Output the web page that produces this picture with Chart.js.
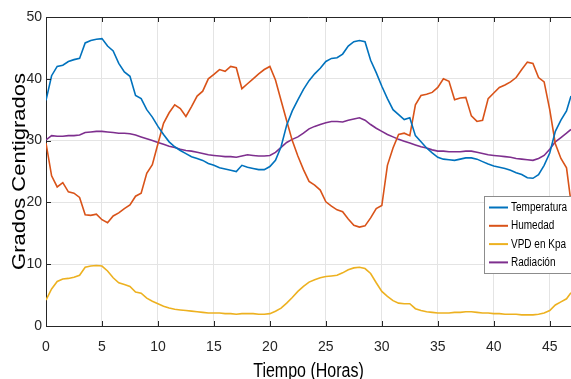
<!DOCTYPE html>
<html>
<head>
<meta charset="utf-8">
<script src="https://cdn.jsdelivr.net/npm/chart.js@4.4.1/dist/chart.umd.min.js"></script>
<style>
  html, body { margin:0; padding:0; background:#fff; }
  #wrap { width:571px; height:379px; }
</style>
</head>
<body>
<div id="wrap"><canvas id="grafica" width="571" height="379"></canvas></div>
<script>
// ==========================
// DATOS
// ==========================
const horas = [0,0.5,1,1.5,2,2.5,3,3.5,4,4.5,5,5.5,6,6.5,7,7.5,8,8.5,9,9.5,
  10,10.5,11,11.5,12,12.5,13,13.5,14,14.5,15,15.5,16,16.5,17,17.5,18,18.5,19,19.5,
  20,20.5,21,21.5,22,22.5,23,23.5,24,24.5,25,25.5,26,26.5,27,27.5,28,28.5,29,29.5,
  30,30.5,31,31.5,32,32.5,33,33.5,34,34.5,35,35.5,36,36.5,37,37.5,38,38.5,39,39.5,
  40,40.5,41,41.5,42,42.5,43,43.5,44,44.5,45,45.5,46,46.5,46.9];

const temperatura = [36.5,40.5,42.0,42.2,42.8,43.1,43.3,45.8,46.2,46.4,46.5,45.3,44.5,42.5,41.1,40.4,37.3,36.8,35.0,33.8,
  32.3,31.0,29.8,29.0,28.4,27.9,27.4,27.1,26.8,26.3,26.0,25.6,25.4,25.2,25.0,26.0,25.7,25.5,25.3,25.3,
  25.8,26.8,29.0,32.5,34.8,36.6,38.3,39.7,40.8,41.7,42.8,43.3,43.4,44.0,45.3,46.0,46.2,46.0,43.0,41.0,
  38.8,36.8,35.0,34.2,33.4,33.7,30.8,29.8,28.8,28.0,27.3,27.0,26.9,26.8,27.0,27.2,27.2,27.0,26.6,26.2,
  25.9,25.7,25.5,25.2,24.8,24.5,24.0,23.9,24.5,26.0,28.0,31.5,33.3,34.8,37.2];

const humedad = [29.6,24.3,22.5,23.2,21.7,21.5,20.8,18.0,17.9,18.1,17.2,16.7,17.8,18.3,19.0,19.6,21.0,21.5,24.7,26.1,
  29.5,32.8,34.5,35.8,35.2,33.9,35.5,37.2,38.0,40.0,40.7,41.5,41.2,42.0,41.8,38.4,39.2,40.0,40.8,41.5,
  42.0,39.8,36.5,33.2,30.0,27.5,25.3,23.4,22.8,22.0,20.1,19.4,18.8,18.5,17.3,16.3,16.0,16.2,17.5,19.0,
  19.5,26.0,28.8,31.0,31.2,30.8,35.8,37.3,37.5,37.8,38.6,40.0,39.6,36.6,36.9,37.0,34.0,33.1,33.3,36.8,
  37.7,38.6,39.0,39.5,40.2,41.5,42.7,42.5,40.2,39.5,35.0,29.5,27.1,25.6,20.0];

const vpd = [4.2,6.0,7.2,7.6,7.7,7.9,8.2,9.5,9.7,9.8,9.7,8.9,7.8,7.0,6.7,6.4,5.5,5.3,4.5,4.0,
  3.6,3.2,2.9,2.7,2.6,2.5,2.4,2.3,2.2,2.1,2.1,2.1,2.0,2.0,1.9,2.0,2.0,2.0,1.9,1.9,
  2.0,2.4,2.9,3.7,4.6,5.6,6.4,7.1,7.5,7.8,8.0,8.1,8.2,8.6,9.1,9.4,9.5,9.3,8.5,7.0,
  5.6,4.8,4.1,3.7,3.6,3.6,2.8,2.5,2.3,2.2,2.1,2.1,2.1,2.2,2.2,2.3,2.3,2.2,2.1,2.1,
  2.0,2.0,1.9,1.9,1.9,1.8,1.8,1.8,1.9,2.1,2.5,3.4,3.9,4.4,5.4];

const radiacion = [30.1,30.8,30.7,30.7,30.8,30.8,30.9,31.3,31.4,31.5,31.5,31.4,31.3,31.2,31.2,31.1,30.9,30.6,30.3,30.0,
  29.7,29.4,29.1,28.9,28.6,28.4,28.3,28.1,27.9,27.7,27.6,27.5,27.4,27.4,27.3,27.5,27.7,27.6,27.5,27.5,
  27.6,28.1,28.9,29.7,30.2,30.6,31.2,31.9,32.3,32.6,32.9,33.1,33.1,33.0,33.3,33.5,33.7,33.3,32.6,32.0,
  31.5,31.0,30.6,30.2,29.9,29.6,29.3,29.0,28.8,28.5,28.3,28.3,28.2,28.2,28.2,28.3,28.3,28.1,27.9,27.7,
  27.6,27.5,27.4,27.3,27.1,27.0,26.9,26.8,27.1,27.6,28.6,29.8,30.5,31.2,31.8];

const xTicks = [0,5,10,15,20,25,30,35,40,45];
const yTicks = [0,10,20,30,40,50];

const nombres = ["Temperatura","Humedad","VPD en Kpa","Radiación"];
const colores = ["#0072BD","#D95319","#EDB120","#7E2F8E"];

// ==========================
// HELPERS
// ==========================
function puntos(serie){
    return horas.map((h, i) => ({ x: h, y: serie[i] }));
}

const fuente = "'Liberation Sans', Arial, sans-serif";
const gris = "#262626";

// marco estilo matlab + titulos + leyenda
const marcoMatlab = {
    id: "marcoMatlab",
    afterDraw(chart){
        const ctx = chart.ctx;
        const a = chart.chartArea;
        const sx = chart.scales.x, sy = chart.scales.y;
        ctx.save();
        ctx.strokeStyle = gris;
        ctx.lineWidth = 1;
        // borde superior
        ctx.beginPath();
        ctx.moveTo(a.left, Math.round(a.top) + 0.5);
        ctx.lineTo(a.right, Math.round(a.top) + 0.5);
        ctx.stroke();
        // ticks hacia dentro
        ctx.beginPath();
        xTicks.forEach(v => {
            const px = Math.round(sx.getPixelForValue(v)) + 0.5;
            ctx.moveTo(px, a.bottom); ctx.lineTo(px, a.bottom - 5);
            ctx.moveTo(px, a.top); ctx.lineTo(px, a.top + 5);
        });
        yTicks.forEach(v => {
            const py = Math.round(sy.getPixelForValue(v)) + 0.5;
            ctx.moveTo(a.left, py); ctx.lineTo(a.left + 5, py);
        });
        ctx.stroke();

        // leyenda
        const lx = 484.5, ly = 196.5;
        ctx.fillStyle = "#fff";
        ctx.fillRect(lx, ly, 100, 77);
        ctx.strokeStyle = "#8c8c8c";
        ctx.strokeRect(lx, ly, 100, 77);
        chart.data.datasets.forEach((ds, i) => {
            const y = 207.5 + i * 18.3;
            ctx.strokeStyle = ds.borderColor;
            ctx.lineWidth = 2;
            ctx.beginPath();
            ctx.moveTo(489, y); ctx.lineTo(508, y);
            ctx.stroke();
            ctx.save();
            ctx.translate(511, y);
            ctx.scale(0.8, 1);
            ctx.fillStyle = "#000";
            ctx.font = "12.5px " + fuente;
            ctx.textBaseline = "middle";
            ctx.textAlign = "left";
            ctx.fillText(ds.label, 0, 0);
            ctx.restore();
        });

        // titulos de ejes
        ctx.fillStyle = "#000";
        ctx.save();
        ctx.translate((a.left + a.right) / 2, 377);
        ctx.scale(0.8, 1);
        ctx.font = "20px " + fuente;
        ctx.textAlign = "center";
        ctx.textBaseline = "alphabetic";
        ctx.fillText("Tiempo (Horas)", 0, 0);
        ctx.restore();

        ctx.save();
        ctx.translate(25, (a.top + a.bottom) / 2);
        ctx.scale(0.8, 1);
        ctx.rotate(-Math.PI / 2);
        ctx.font = "22px " + fuente;
        ctx.textAlign = "center";
        ctx.textBaseline = "alphabetic";
        ctx.fillText("Grados Centigrados", 0, 0);
        ctx.restore();

        ctx.restore();
    }
};

// ==========================
// GRÁFICA
// ==========================
const series = [temperatura, humedad, vpd, radiacion];

new Chart(document.getElementById("grafica"), {
    type: "line",
    data: {
        datasets: series.map((s, i) => ({
            label: nombres[i],
            data: puntos(s),
            borderColor: colores[i],
            backgroundColor: colores[i],
            borderWidth: 1.6,
            pointRadius: 0,
            tension: 0,
            fill: false
        }))
    },
    options: {
        responsive: false,
        animation: false,
        devicePixelRatio: 1,
        layout: { padding: { top: 17, left: 0, right: 0, bottom: 0 } },
        plugins: {
            legend: { display: false },
            tooltip: { enabled: false }
        },
        scales: {
            x: {
                type: "linear",
                min: 0,
                max: 46.9,
                afterBuildTicks: s => { s.ticks = xTicks.map(v => ({ value: v })); },
                afterFit: s => { s.height = 53; },
                grid: { color: "#e4e4e4", drawTicks: false },
                border: { color: gris, width: 1 },
                ticks: {
                    color: gris,
                    padding: 13,
                    maxRotation: 0,
                    autoSkip: false,
                    font: { family: fuente, size: 14 }
                }
            },
            y: {
                min: 0,
                max: 50,
                afterBuildTicks: s => { s.ticks = yTicks.map(v => ({ value: v })); },
                afterFit: s => { s.width = 46; },
                grid: { color: "#e4e4e4", drawTicks: false },
                border: { color: gris, width: 1 },
                ticks: {
                    color: gris,
                    padding: 4,
                    font: { family: fuente, size: 14 }
                }
            }
        }
    },
    plugins: [marcoMatlab]
});
</script>
</body>
</html>
